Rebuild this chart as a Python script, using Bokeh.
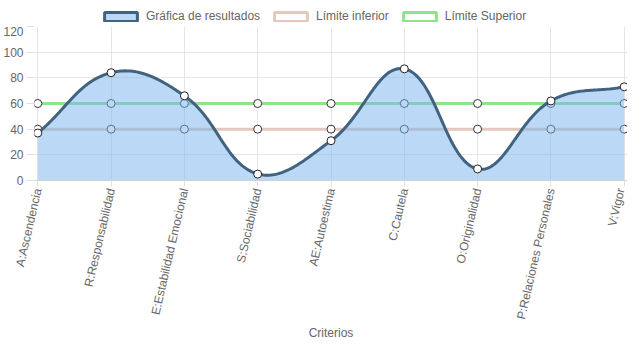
import math
import numpy as np
from bokeh.plotting import figure
from bokeh.layouts import column
from bokeh.models import (ColumnDataSource, FixedTicker, LinearAxis, Legend, LegendItem, Range1d, Grid)
from bokeh.embed import file_html
from bokeh.resources import INLINE

categories = ["A:Ascendencia", "R:Responsabilidad", "E:Estabilidad Emocional", "S:Sociabilidad",
              "AE:Autoestima", "C:Cautela", "O:Originalidad", "P:Relaciones Personales", "V:Vigor"]
resultados = [37, 84, 66, 5, 31, 87, 9, 62, 73]
limite_inferior = [40, 40, 40, 40, 40, 40, 40, 40, 40]
limite_superior = [60, 60, 60, 60, 60, 60, 60, 60, 60]
y_ticks = [0, 20, 40, 60, 80, 100, 120]

FONT = "Liberation Sans"
TXT = "#666666"
LINE_C = "#41637f"
FILL_C = "#78b4ed"
LOW_C = "#e2c8bd"
UP_C = "#8fe38b"

xs = list(range(len(categories)))

# Chart.js-like tension spline, computed in approximate pixel space
PX_X, PX_Y, TENSION = 74.6, 1.242, 0.4


def spline_samples(xv, yv, n=40):
    P = np.column_stack([np.array(xv, float) * PX_X, np.array(yv, float) * PX_Y])
    m = len(P)
    cprev, cnext = [], []
    for i in range(m):
        prev = P[i - 1] if i > 0 else P[i]
        nxt = P[i + 1] if i < m - 1 else P[i]
        cur = P[i]
        d01 = np.hypot(*(cur - prev))
        d12 = np.hypot(*(nxt - cur))
        tot = d01 + d12
        s01 = d01 / tot if tot else 0
        s12 = d12 / tot if tot else 0
        fa, fb = TENSION * s01, TENSION * s12
        cp = cur - fa * (nxt - prev)
        cn = cur + fb * (nxt - prev)
        for c in (cp, cn):
            c[0] = min(max(c[0], 0), (m - 1) * PX_X)
            c[1] = min(max(c[1], 0), 120 * PX_Y)
        cprev.append(cp)
        cnext.append(cn)
    out = []
    t = np.linspace(0, 1, n)
    for i in range(m - 1):
        p0, p1, p2, p3 = P[i], cnext[i], cprev[i + 1], P[i + 1]
        seg = (((1 - t) ** 3)[:, None] * p0 + (3 * (1 - t) ** 2 * t)[:, None] * p1
               + (3 * (1 - t) * t ** 2)[:, None] * p2 + (t ** 3)[:, None] * p3)
        out.append(seg if i == 0 else seg[1:])
    S = np.vstack(out)
    return (S[:, 0] / PX_X).tolist(), (S[:, 1] / PX_Y).tolist()


cx, cy = spline_samples(xs, resultados)

W = 627

p = figure(width=W, height=317, output_backend="svg", toolbar_location=None,
           x_range=Range1d(-0.045, 8.045), y_range=Range1d(0, 120),
           x_axis_type=None, y_axis_type=None,
           min_border_left=0, min_border_right=0, min_border_top=0, min_border_bottom=0)
p.outline_line_color = None
p.background_fill_color = "white"

xaxis = LinearAxis(ticker=FixedTicker(ticks=xs),
                   major_label_overrides={i: c for i, c in enumerate(categories)})
xaxis.major_label_orientation = math.radians(77)
xaxis.major_label_text_font = FONT
xaxis.major_label_text_font_size = "12px"
xaxis.major_label_text_color = TXT
xaxis.major_label_standoff = 2
xaxis.major_tick_out = 6
xaxis.major_tick_in = 0
xaxis.major_tick_line_color = "#e0e0e0"
xaxis.minor_tick_line_color = None
xaxis.axis_line_color = "#d0d0d0"
xaxis.axis_label = "Criterios"
xaxis.axis_label_text_font = FONT
xaxis.axis_label_text_font_size = "12px"
xaxis.axis_label_text_font_style = "normal"
xaxis.axis_label_text_color = TXT
xaxis.axis_label_standoff = 1
p.add_layout(xaxis, "below")

yaxis = LinearAxis(ticker=FixedTicker(ticks=y_ticks))
yaxis.major_label_text_font = FONT
yaxis.major_label_text_font_size = "12px"
yaxis.major_label_text_color = TXT
yaxis.major_label_standoff = 3
yaxis.major_tick_out = 8
yaxis.major_tick_in = 0
yaxis.major_tick_line_color = "#e0e0e0"
yaxis.minor_tick_line_color = None
yaxis.axis_line_color = None
p.add_layout(yaxis, "left")

p.add_layout(Grid(dimension=0, ticker=FixedTicker(ticks=xs), grid_line_color="#e6e6e6"))
p.add_layout(Grid(dimension=1, ticker=FixedTicker(ticks=y_ticks), grid_line_color="#e6e6e6"))

src = ColumnDataSource(dict(x=xs, res=resultados, lo=limite_inferior, up=limite_superior))

# limits (drawn below the results fill)
p.line("x", "up", source=src, line_color=UP_C, line_width=3)
p.scatter("x", "up", source=src, size=8, fill_color="white", line_color="#333333", line_width=1)
p.line("x", "lo", source=src, line_color=LOW_C, line_width=3)
p.scatter("x", "lo", source=src, size=8, fill_color="white", line_color="#333333", line_width=1)

# results
csrc = ColumnDataSource(dict(x=cx, y=cy, z=[0.0] * len(cy)))
p.varea(x="x", y1="z", y2="y", source=csrc, fill_color=FILL_C, fill_alpha=0.5)
p.line(x="x", y="y", source=csrc, line_color=LINE_C, line_width=3)
p.scatter("x", "res", source=src, size=8, fill_color="white", line_color="#222222", line_width=1)

# legend in a slim figure above (legend-only renderers hold no visible data)
lg = figure(width=W, height=26, output_backend="svg", toolbar_location=None,
            x_axis_type=None, y_axis_type=None, x_range=Range1d(0, 1), y_range=Range1d(0, 1),
            min_border_left=0, min_border_right=0, min_border_top=0, min_border_bottom=0)
lg.outline_line_color = None
lg.grid.visible = False
nan = float("nan")
empty = dict(left=[nan], right=[nan], top=[nan], bottom=[nan])
d1 = lg.quad(source=ColumnDataSource(empty), fill_color=FILL_C, fill_alpha=0.5, line_color=LINE_C, line_width=3)
d2 = lg.quad(source=ColumnDataSource(dict(empty)), fill_color="white", line_color=LOW_C, line_width=3)
d3 = lg.quad(source=ColumnDataSource(dict(empty)), fill_color="white", line_color=UP_C, line_width=3)
legend = Legend(items=[LegendItem(label="Gráfica de resultados", renderers=[d1], index=0),
                       LegendItem(label="Límite inferior", renderers=[d2], index=0),
                       LegendItem(label="Límite Superior", renderers=[d3], index=0)],
                orientation="horizontal", location=(66, 3))
legend.label_text_font = FONT
legend.label_text_font_size = "12px"
legend.label_text_color = TXT
legend.glyph_width = 41
legend.glyph_height = 11
legend.label_height = 13
legend.label_standoff = 5
legend.spacing = 10
legend.padding = 0
legend.margin = 0
legend.border_line_color = None
legend.background_fill_alpha = 0
lg.add_layout(legend)

open("out.html", "w").write(file_html(column(lg, p, spacing=0), INLINE))
